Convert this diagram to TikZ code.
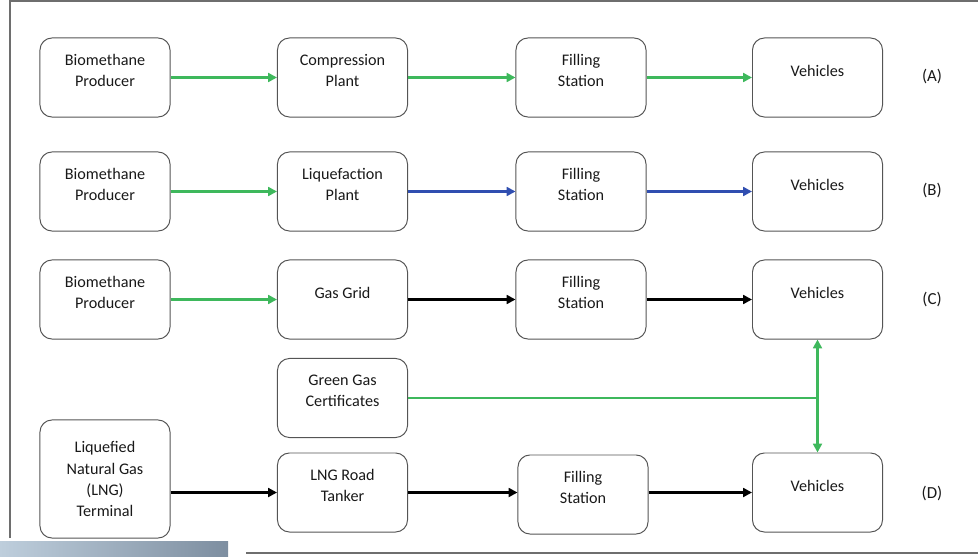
\documentclass[tikz,border=0pt]{standalone}
\usepackage{fontspec}
\setmainfont{Carlito}
\usepackage{tikz}
\usetikzlibrary{arrows.meta}
\definecolor{flowgreen}{RGB}{62,184,92}
\definecolor{flowblue}{RGB}{48,78,176}
\definecolor{boxgray}{RGB}{85,85,85}
\definecolor{framegray}{RGB}{110,110,110}
\tikzset{box/.style={draw=boxgray, line width=0.7pt, rounded corners=0.3cm, minimum width=3.25cm, minimum height=1.975cm, align=center, text=black!90, font=\fontsize{11.5}{15}\selectfont}}
\tikzset{stage/.style={box, text depth=0.35cm}}
\tikzset{tag/.style={text=black!90, font=\fontsize{12}{14}\selectfont}}

\begin{document}
\begin{tikzpicture}[x=0.025cm, y=-0.025cm]
\tikzstyle{greenflow} = [flowgreen, line width=2pt, -{Triangle[length=2.2mm, width=2.2mm]}]
\tikzstyle{blueflow} = [flowblue, line width=2pt, -{Triangle[length=2.2mm, width=2.2mm]}]
\tikzstyle{blackflow} = [black, line width=2pt, -{Triangle[length=2.2mm, width=2.2mm]}]
\useasboundingbox (0,0) rectangle (978,557);
% frame
\draw[framegray, line width=1.2pt] (10,538) -- (10,1) -- (978,1);
\draw[framegray, line width=1pt] (246,553) -- (978,553);
\shade[left color={rgb,255:red,190;green,206;blue,220}, right color={rgb,255:red,125;green,142;blue,160}] (0,541) rectangle (228,557);
% (A)
\node[stage](prodA) at (105, 77.5){Biomethane\\Producer};
\node[stage](comp) at (342.5, 77.5){Compression\\Plant};
\node[stage](fillA) at (581, 77.5){Filling\\Station};
\node[stage](vehA) at (817.5, 77.5){Vehicles};
\node[tag](lblA) at (932, 77){(A)};
\draw[greenflow] (prodA) -- (comp);
\draw[greenflow] (comp) -- (fillA);
\draw[greenflow] (fillA) -- (vehA);
% (B)
\node[stage](prodB) at (105, 191.5){Biomethane\\Producer};
\node[stage](liq) at (342.5, 191.5){Liquefaction\\Plant};
\node[stage](fillB) at (581, 191.5){Filling\\Station};
\node[stage](vehB) at (817.5, 191.5){Vehicles};
\node[tag](lblB) at (932, 190){(B)};
\draw[greenflow] (prodB) -- (liq);
\draw[blueflow] (liq) -- (fillB);
\draw[blueflow] (fillB) -- (vehB);
% (C)
\node[stage](prodC) at (105, 299.5){Biomethane\\Producer};
\node[stage](grid) at (342.5, 299.5){Gas Grid};
\node[stage](fillC) at (581, 299.5){Filling\\Station};
\node[stage](vehC) at (817.5, 299.5){Vehicles};
\node[tag](lblC) at (932, 299){(C)};
\draw[greenflow] (prodC) -- (grid);
\draw[blackflow] (grid) -- (fillC);
\draw[blackflow] (fillC) -- (vehC);
% certificates
\node[stage](cert) at (342.5, 398){Green Gas\\Certificates};
% (D)
\node[box, minimum height=2.95cm](lng) at (105, 479){Liquefied\\Natural Gas\\(LNG)\\Terminal};
\node[stage](tank) at (342.5, 492.5){LNG Road\\Tanker};
\node[stage](fillD) at (583, 494.5){Filling\\Station};
\node[stage](vehD) at (817.5, 492.5){Vehicles};
\node[tag](lblD) at (932, 493){(D)};
\draw[blackflow] (tank.west -| lng.east) -- (tank.west);
\draw[blackflow] (tank.east) -- (tank.east -| fillD.west);
\draw[blackflow] (vehD.west -| fillD.east) -- (vehD.west);
\draw[flowgreen, line width=2pt] (cert.east) -- (cert.east -| vehC.south);
\draw[flowgreen, line width=2pt, {Triangle[length=2.2mm, width=2.2mm]}-{Triangle[length=2.2mm, width=2.2mm]}] (vehC.south) -- (vehD.north);
\end{tikzpicture}
\end{document}
